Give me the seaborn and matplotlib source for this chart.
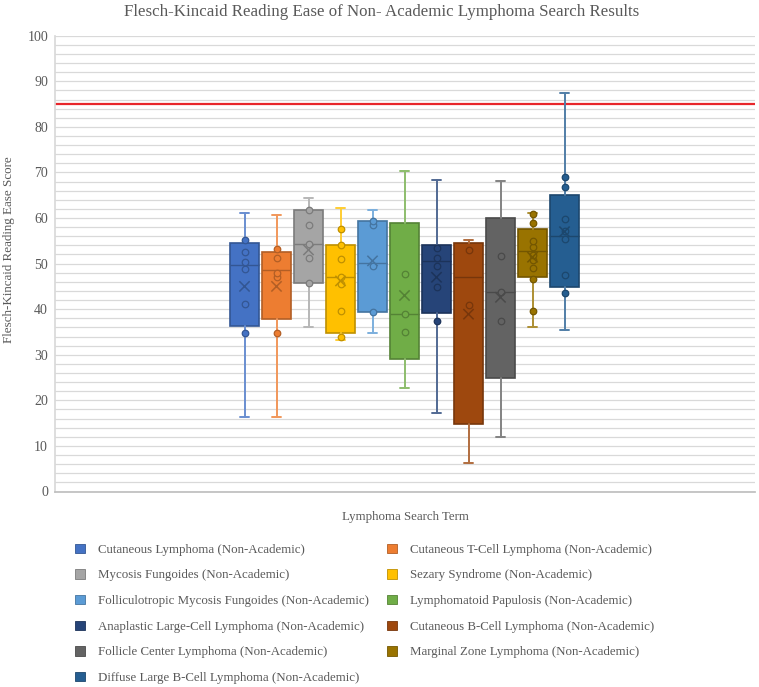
import numpy as np
import pandas as pd
import matplotlib
matplotlib.use("Agg")
import matplotlib.pyplot as plt
import matplotlib.colors as mcolors
from matplotlib.patches import Patch
import seaborn as sns

# -------------------------------
# data
# -------------------------------
terms = [
    "Cutaneous Lymphoma (Non-Academic)",
    "Cutaneous T-Cell Lymphoma (Non-Academic)",
    "Mycosis Fungoides (Non-Academic)",
    "Sezary Syndrome (Non-Academic)",
    "Folliculotropic Mycosis Fungoides (Non-Academic)",
    "Lymphomatoid Papulosis (Non-Academic)",
    "Anaplastic Large-Cell Lymphoma (Non-Academic)",
    "Cutaneous B-Cell Lymphoma (Non-Academic)",
    "Follicle Center Lymphoma (Non-Academic)",
    "Marginal Zone Lymphoma (Non-Academic)",
    "Diffuse Large B-Cell Lymphoma (Non-Academic)",
]
colors = ["#4472C4", "#ED7D31", "#A5A5A5", "#FFC000", "#5B9BD5", "#70AD47",
          "#264478", "#9E480E", "#636363", "#997300", "#255E91"]

whisker_low = [16.3, 16.4, 36.0, 33.2, 34.7, 22.7, 17.2, 6.2, 12.0, 36.1, 35.4]
q1 = [36.3, 37.9, 45.7, 34.8, 39.3, 29.0, 39.2, 14.9, 24.8, 47.1, 44.8]
median = [49.6, 48.6, 54.4, 47.1, 50.1, 39.0, 50.5, 47.0, 43.7, 52.8, 56.1]
q3 = [54.5, 52.5, 61.8, 54.1, 59.3, 59.0, 54.1, 54.6, 59.9, 57.7, 65.1]
whisker_high = [61.2, 60.7, 64.5, 62.3, 61.8, 70.4, 68.3, 55.2, 68.1, 61.1, 87.4]
means = [45.0, 45.0, 53.0, 46.2, 50.6, 43.0, 47.0, 38.9, 42.6, 51.4, 57.0]

inner_points = [
    [34.7, 41.2, 48.9, 50.4, 52.6, 55.2],
    [34.8, 47.1, 47.9, 51.3, 53.1],
    [45.8, 51.3, 54.3, 58.5, 61.8],
    [34.0, 39.7, 45.5, 47.1, 51.0, 54.1, 57.7],
    [39.3, 49.5, 58.5, 59.3],
    [35.0, 39.0, 47.8],
    [37.3, 44.9, 49.4, 51.3, 53.5],
    [40.9, 53.0],
    [37.4, 43.7, 51.6],
    [39.5, 46.7, 49.0, 50.8, 51.9, 53.7, 55.0, 58.8, 60.9],
    [43.6, 47.6, 55.5, 57.2, 59.7, 66.7, 68.9],
]

threshold = 85

# -------------------------------
# styling
# -------------------------------
sns.set_theme(style="white")
plt.rcParams["font.family"] = ["Liberation Serif", "DejaVu Serif"]
text_color = "#595959"


def shade(c, amount):
    rgb = np.array(mcolors.to_rgb(c))
    if amount < 0:
        return tuple(rgb * (1 + amount))
    return tuple(rgb + (1 - rgb) * amount)


dark = [shade(c, -0.25) for c in colors]
light = [shade(c, 0.2) for c in colors]

pos = np.arange(len(terms))
pts = pd.DataFrame(
    [(t, p, v) for t, p, vals in zip(terms, pos, inner_points) for v in vals],
    columns=["term", "pos", "value"],
)
mean_df = pd.DataFrame({"term": terms, "pos": pos, "mean": means})

fig = plt.figure(figsize=(7.59, 6.87), dpi=100)
ax = fig.add_axes([55 / 759, 1 - 491.5 / 687, 700 / 759, (491.5 - 35.7) / 687])

# boxes
for i in range(len(terms)):
    st = dict(med=median[i], q1=q1[i], q3=q3[i],
              whislo=whisker_low[i], whishi=whisker_high[i], fliers=[])
    ax.bxp([st], positions=[pos[i]], widths=0.9, capwidths=0.28,
           patch_artist=True, showfliers=False,
           boxprops=dict(facecolor=colors[i], edgecolor=dark[i], linewidth=1.2),
           medianprops=dict(color=dark[i], linewidth=1.0),
           whiskerprops=dict(color=light[i], linewidth=1.4),
           capprops=dict(color=light[i], linewidth=1.4),
           zorder=3)

# inner points
for i, t in enumerate(terms):
    sns.scatterplot(data=pts[pts["term"] == t], x="pos", y="value", ax=ax,
                    color=colors[i], edgecolor=dark[i], s=22, linewidth=0.9,
                    zorder=4, legend=False)

# mean markers
sns.scatterplot(data=mean_df, x="pos", y="mean", hue="term", palette=dark,
                marker="x", s=55, linewidth=1.1, ax=ax, zorder=5, legend=False)

ax.axhline(threshold, color="#E8262B", linewidth=1.6, zorder=2)

ax.set_xlim(5 - (404.5 - 55) / 32, 5 + (755 - 404.5) / 32)
ax.set_ylim(0, 100)
ax.set_yticks(range(0, 101, 10))
ax.set_yticks(range(0, 101, 2), minor=True)
ax.set_xticks([])
ax.grid(which="both", axis="y", color="#D9D9D9", linewidth=0.9)
ax.set_axisbelow(True)
ax.tick_params(axis="y", which="both", length=0, pad=5, labelsize=10,
               labelcolor=text_color)
ax.set_xlabel("")
ax.set_ylabel("")
for s in ["top", "right"]:
    ax.spines[s].set_visible(False)
ax.spines["left"].set_color("#D9D9D9")
ax.spines["bottom"].set_color("#BFBFBF")

fig.text(382 / 759, 1 - 12 / 687,
         "Flesch-Kincaid Reading Ease of Non- Academic Lymphoma Search Results",
         ha="center", va="center", fontsize=12.2, color=text_color)
fig.text(9 / 759, 1 - 250 / 687, "Flesch-Kincaid Reading Ease Score",
         rotation=90, ha="center", va="center", fontsize=9.4, color=text_color)
fig.text(405 / 759, 1 - 517 / 687, "Lymphoma Search Term",
         ha="center", va="center", fontsize=9.3, color=text_color)

# legend, row-major order like Excel
handles = [Patch(facecolor=c, edgecolor=d, linewidth=0.6) for c, d in zip(colors, dark)]
order = list(range(0, len(terms), 2)) + list(range(1, len(terms), 2))
leg = fig.legend([handles[k] for k in order], [terms[k] for k in order],
                 ncol=2, loc="upper left", bbox_to_anchor=(75 / 759, 1 - 543.5 / 687),
                 frameon=False, fontsize=9.3, handlelength=0.75, handleheight=0.75,
                 handletextpad=1.0, labelspacing=1.04, columnspacing=1.45,
                 borderpad=0, borderaxespad=0)
for txt in leg.get_texts():
    txt.set_color(text_color)

fig.savefig("out.png", dpi=100)
